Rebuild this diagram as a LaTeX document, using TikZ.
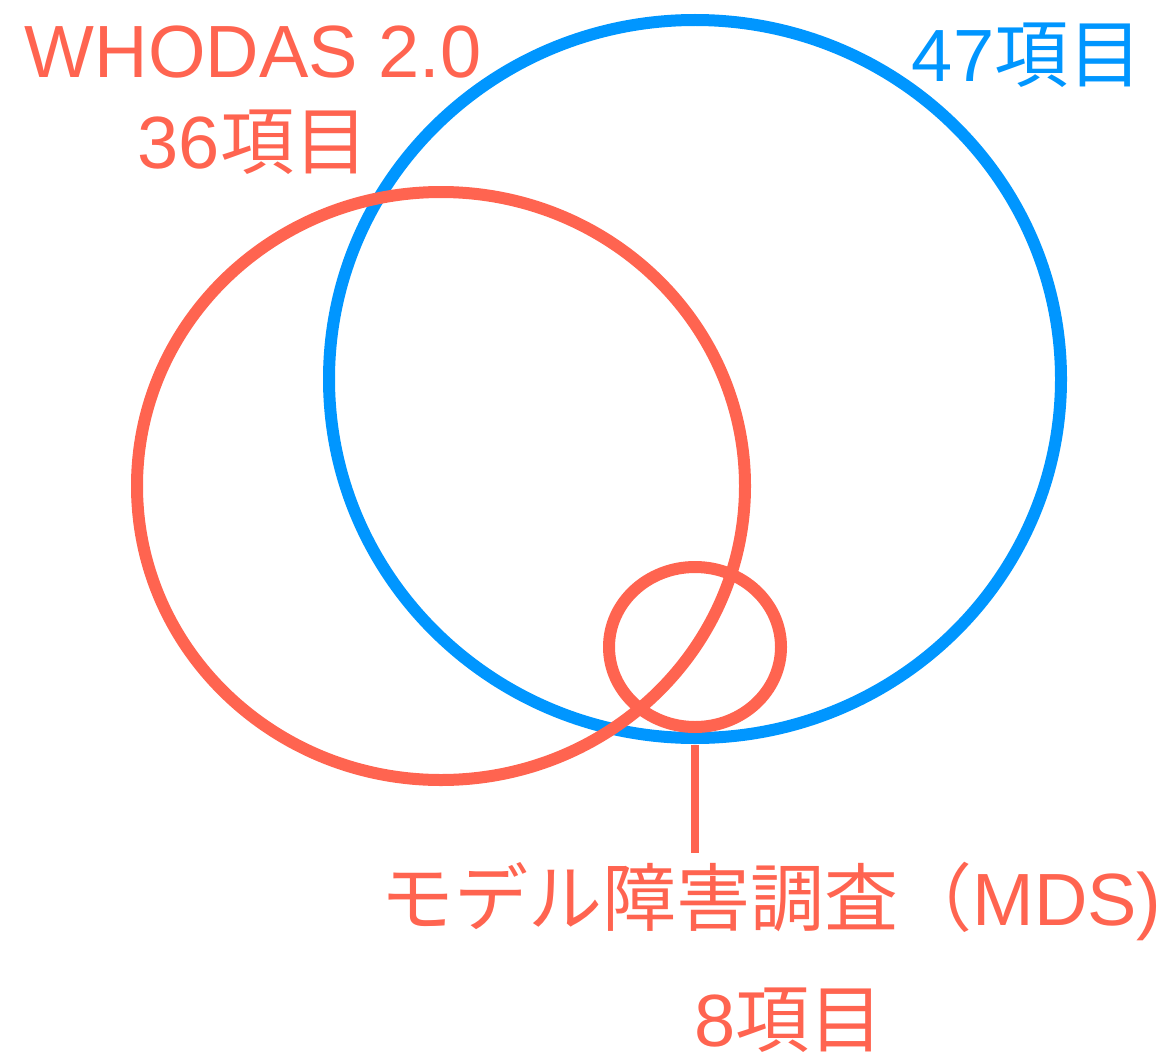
\documentclass[tikz,border=0pt]{standalone}
\usepackage{fontspec}
\setmainfont{Liberation Sans}
\newfontfamily\cjk{Noto Sans CJK JP}
\definecolor{cred}{RGB}{255,100,80}
\definecolor{cblue}{RGB}{0,150,255}
\begin{document}
\begin{tikzpicture}[x=1pt,y=-1pt,
  lbl/.style={inner sep=0pt, anchor=base, font=\fontsize{74}{80}\selectfont},
  ring/.style={line width=12pt}]
\useasboundingbox (0,0) rectangle (1169,1054);
% blue ellipse
\draw[ring, cblue] (695,379) ellipse [x radius=366pt, y radius=359pt];
% red large ellipse
\draw[ring, cred] (441,486) ellipse [x radius=304pt, y radius=294pt];
% small red ellipse
\draw[ring, cred] (695,647) ellipse [x radius=86pt, y radius=80pt];
% connector
\coordinate (lt) at (695,745);
\coordinate (lb) at (695,853);
\draw[cred, line width=8pt] (lt) -- (lb);
% labels
\node[lbl, text=cred] (who) at (253,78) {WHODAS 2.0};
\node[lbl, text=cred] (n36) at (253,168) {36{\cjk 項目}};
\node[lbl, text=cblue] (n47) at (1027,82) {47{\cjk 項目}};
\node[lbl, text=cred] (mds) at (771,925) {{\cjk モデル障害調査（}MDS)};
\node[lbl, text=cred] (n8) at (789,1046) {8{\cjk 項目}};
\end{tikzpicture}
\end{document}
